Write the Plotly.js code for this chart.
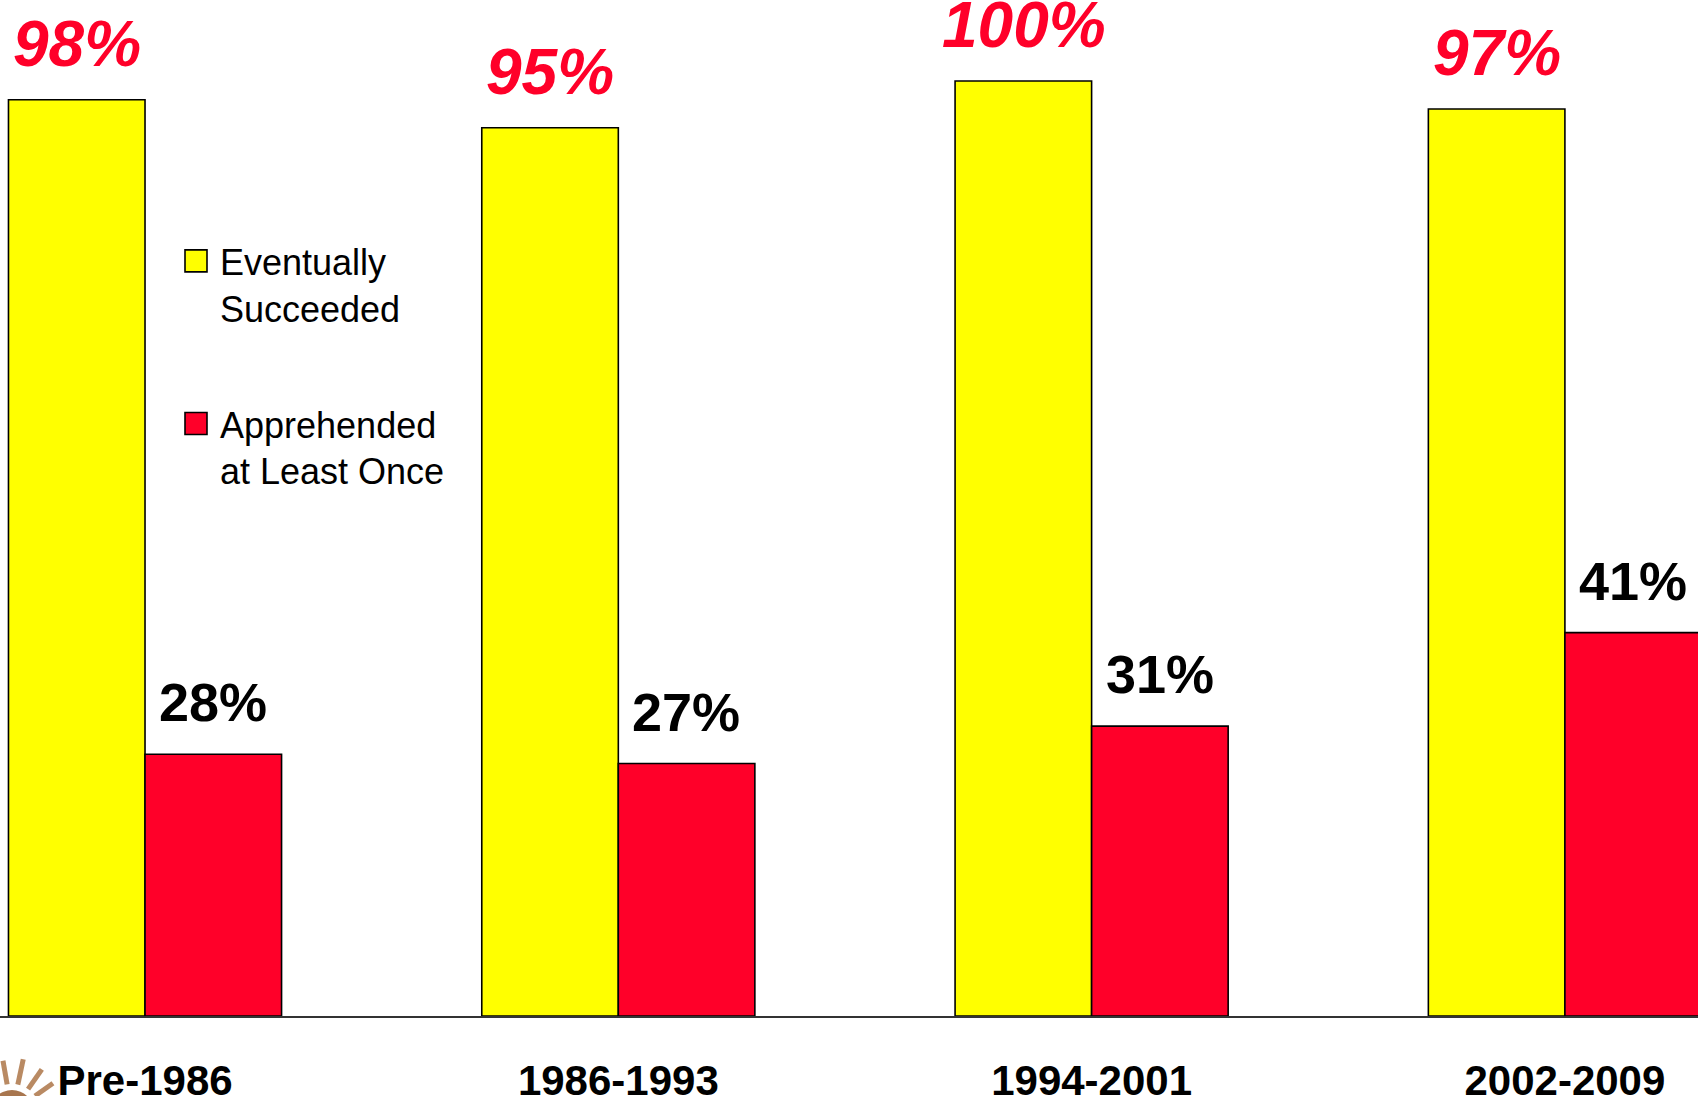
<!DOCTYPE html>
<html>
<head>
<meta charset="utf-8">
<script src="https://cdn.plot.ly/plotly-3.0.1.min.js"></script>
<style>
  html, body { margin: 0; padding: 0; background: #ffffff; }
  #chart { width: 1698px; height: 1096px; }
</style>
</head>
<body>
<div id="chart"></div>
<script>
// ---- data ----
const categories = ['Pre-1986', '1986-1993', '1994-2001', '2002-2009'];
const succeeded = [98, 95, 100, 97];
const apprehended = [28, 27, 31, 41];
const seriesNames = ['Eventually<br>Succeeded', 'Apprehended<br>at Least Once'];

// ---- styling ----
const YELLOW = '#FFFF00';
const RED = '#FF0029';
const FONT = 'Liberation Sans, Arial, Helvetica, sans-serif';
const W = 1698, H = 1096;
const M = {l: 0, r: 0, t: 0, b: 80};
const plotH = H - M.t - M.b;

const traces = [
  {
    type: 'bar', name: seriesNames[0], x: categories, y: succeeded,
    marker: {color: YELLOW, line: {color: '#000000', width: 1.6}},
    legendgroup: 'a', hoverinfo: 'skip'
  },
  {
    type: 'bar', name: seriesNames[1], x: categories, y: apprehended,
    marker: {color: RED, line: {color: '#000000', width: 1.6}},
    legendgroup: 'b', hoverinfo: 'skip'
  }
];

// value labels (half a bar width either side of each category centre)
const barHalf = 68;
const annotations = [];
categories.forEach((c, i) => {
  annotations.push({
    x: c, y: succeeded[i], xref: 'x', yref: 'y',
    text: succeeded[i] + '%', showarrow: false,
    xshift: -barHalf, yshift: 18, yanchor: 'bottom', xanchor: 'center',
    font: {family: FONT, size: 64, color: RED, weight: 'bold', style: 'italic'}
  });
  annotations.push({
    x: c, y: apprehended[i], xref: 'x', yref: 'y',
    text: apprehended[i] + '%', showarrow: false,
    xshift: barHalf, yshift: 20, yanchor: 'bottom', xanchor: 'center',
    font: {family: FONT, size: 54, color: '#000000', weight: 'bold'}
  });
});

// small decorative sun logo in the lower-left corner
function px2paper(px, py) { return [px / (W - M.l - M.r), (plotH - py) / plotH]; }
const shapes = [];
const cx = 12, cy = 1112;
[[35, 22], [55, 24], [78, 26], [100, 24], [122, 22]].forEach(([deg, len]) => {
  const a = deg * Math.PI / 180;
  const p0 = px2paper(cx + 28 * Math.cos(a), cy - 28 * Math.sin(a));
  const p1 = px2paper(cx + (28 + len) * Math.cos(a), cy - (28 + len) * Math.sin(a));
  shapes.push({type: 'line', xref: 'paper', yref: 'paper', x0: p0[0], y0: p0[1], x1: p1[0], y1: p1[1],
    line: {color: '#B98A63', width: 5}});
});
const c0 = px2paper(cx - 22, cy - 22), c1 = px2paper(cx + 22, cy + 22);
shapes.push({type: 'circle', xref: 'paper', yref: 'paper', x0: c0[0], y0: c0[1], x1: c1[0], y1: c1[1],
  fillcolor: '#A8764E', line: {width: 0}});

const layout = {
  width: W, height: H,
  margin: M,
  paper_bgcolor: '#ffffff', plot_bgcolor: '#ffffff',
  barmode: 'group', bargap: 0.423, bargroupgap: 0,
  showlegend: true,
  legend: {
    x: 180 / W, xanchor: 'left', y: (plotH - 231) / plotH, yanchor: 'top',
    font: {family: FONT, size: 36, color: '#000000'},
    bgcolor: 'rgba(0,0,0,0)', valign: 'top', tracegroupgap: 66,
    traceorder: 'grouped'
  },
  xaxis: {
    type: 'category', range: [-0.3064, 3.2812],
    showline: true, linecolor: '#333333', linewidth: 2,
    ticks: '', showgrid: false, zeroline: false,
    tickfont: {family: FONT, size: 42, color: '#000000', weight: 'bold'},
    ticklabelstandoff: 27
  },
  yaxis: {
    range: [0, plotH / 9.35], visible: false, showgrid: false, zeroline: false
  },
  annotations: annotations,
  shapes: shapes
};

Plotly.newPlot('chart', traces, layout, {displayModeBar: false, staticPlot: true}).then(() => {
  // enlarge legend swatches to match the reference's larger squares
  document.querySelectorAll('#chart .legendpoints path').forEach(p => {
    p.setAttribute('d', 'M7,11H-15V-11H7Z');
  });
});
</script>
</body>
</html>
